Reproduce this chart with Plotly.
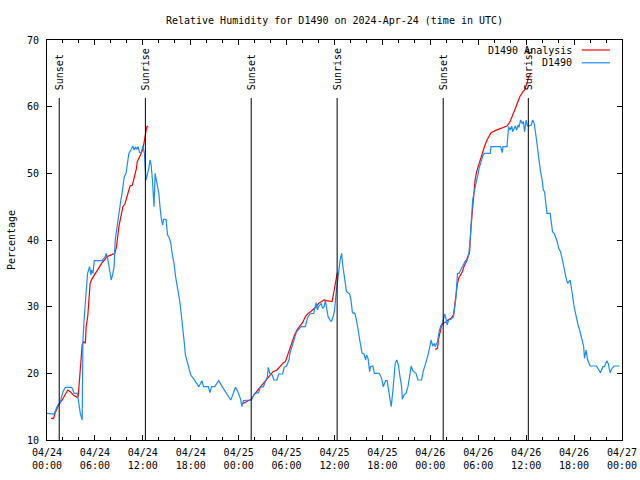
import pandas as pd
import plotly.graph_objects as go

START = pd.Timestamp("2024-04-24 00:00")

# Observed relative humidity (hours since 2024-04-24 00:00 UTC, percent)
obs_hours = [0.0, 0.9, 1.25, 1.67, 2.0, 2.3, 3.1, 3.4, 3.8, 4.0, 4.17, 4.4, 4.5, 4.67, 4.83, 4.96, 5.08, 5.33, 5.5, 5.58,
             5.75, 5.92, 6.9, 7.3, 7.4, 7.6, 7.9, 8.04, 8.25, 8.4, 8.54, 8.75, 9.0, 9.25, 9.4, 9.67, 9.9, 10.1, 10.25, 10.5,
             10.75, 10.9, 11.1, 11.25, 11.4, 11.6, 11.8, 12.0, 12.2, 12.3, 12.4, 12.6, 12.75, 12.9, 13.04, 13.2, 13.33, 13.4, 13.54, 13.67,
             13.83, 14.0, 14.17, 14.33, 14.5, 14.58, 14.9, 15.1, 15.33, 15.5, 15.67, 15.9, 16.1, 16.25, 16.4, 16.6, 16.75, 16.9, 17.1, 17.2,
             17.33, 17.5, 17.67, 17.83, 18.0, 18.33, 18.6, 18.8, 19.0, 19.2, 19.4, 19.6, 20.2, 20.4, 20.6, 21.0, 21.5, 22.0, 22.5, 23.0,
             23.25, 23.6, 23.9, 24.25, 24.4, 24.6, 25.6, 25.8, 26.0, 26.5, 26.7, 27.1, 27.35, 27.6, 27.7, 27.9, 28.2, 28.4, 28.8, 29.0,
             29.5, 29.7, 30.0, 30.3, 30.4, 30.7, 30.9, 31.2, 31.5, 31.85, 32.35, 32.6, 32.9, 33.4, 33.7, 33.85, 34.0, 34.35, 34.5, 34.7,
             34.85, 35.0, 35.2, 35.4, 35.6, 35.85, 36.0, 36.2, 36.35, 36.5, 36.7, 36.9, 37.0, 37.2, 37.35, 37.5, 37.9, 38.05, 38.25, 38.55,
             38.75, 38.95, 39.1, 39.3, 39.45, 39.7, 39.9, 40.0, 40.2, 40.4, 40.5, 40.8, 41.0, 41.6, 41.9, 42.1, 42.4, 42.6, 42.8, 43.0,
             43.1, 43.3, 43.45, 43.6, 43.8, 44.0, 44.2, 44.4, 44.5, 44.7, 44.95, 45.2, 45.4, 45.6, 45.8, 46.2, 46.45, 46.9, 47.1, 47.4,
             47.6, 47.8, 48.0, 48.1, 48.3, 48.5, 48.6, 48.9, 49.1, 49.3, 49.55, 49.8, 50.0, 50.1, 50.3, 50.6, 50.9, 51.05, 51.2, 51.4,
             51.6, 51.8, 52.0, 52.15, 52.4, 52.6, 52.8, 52.97, 53.1, 53.3, 53.5, 53.6, 53.8, 54.0, 54.1, 54.3, 54.5, 54.6, 54.8, 55.5,
             55.6, 56.8, 57.0, 57.1, 57.6, 57.8, 57.98, 58.2, 58.3, 58.5, 58.65, 58.8, 59.0, 59.1, 59.3, 59.5, 59.65, 59.8, 60.0, 60.15,
             60.3, 60.65, 60.8, 61.0, 61.15, 61.3, 61.5, 61.65, 61.8, 62.0, 62.15, 62.3, 62.5, 62.6, 63.0, 63.15, 63.3, 63.5, 63.7, 63.9,
             64.07, 64.3, 64.5, 64.65, 64.8, 65.0, 65.2, 65.5, 65.65, 65.8, 66.0, 66.2, 66.3, 66.5, 66.7, 66.8, 67.0, 67.2, 67.3, 67.5,
             67.7, 68.0, 68.8, 69.1, 69.3, 69.6, 69.8, 70.1, 70.3, 70.5, 70.75, 71.0, 71.7]
obs_values = [14.0, 13.9, 15.0, 15.75, 17.25, 17.9, 17.9, 17.0, 17.0, 15.5, 14.0, 13.0, 25.0, 28.5, 31.0, 34.0, 35.0, 36.0, 34.75, 35.5,
              35.0, 36.9, 36.9, 37.5, 38.0, 37.25, 34.75, 34.0, 35.0, 36.0, 40.0, 42.0, 44.5, 46.0, 47.0, 49.5, 50.0, 51.5, 53.0, 53.5,
              54.1, 53.5, 54.0, 53.6, 54.0, 53.1, 53.1, 54.1, 53.0, 50.75, 49.0, 50.0, 50.75, 52.0, 51.25, 49.0, 46.0, 45.0, 50.0, 49.0,
              48.0, 47.0, 44.75, 43.0, 42.25, 43.1, 43.1, 40.75, 40.25, 39.5, 38.0, 36.5, 34.5, 33.5, 32.0, 31.0, 29.5, 28.0, 26.25, 24.5,
              22.75, 22.0, 21.25, 20.5, 19.75, 19.25, 18.75, 18.25, 18.0, 18.4, 18.9, 18.0, 18.0, 17.1, 18.0, 18.0, 18.9, 17.9, 16.9, 16.0,
              16.75, 17.9, 17.25, 16.1, 15.0, 15.9, 16.0, 16.5, 17.0, 17.1, 17.9, 18.0, 18.9, 19.5, 20.9, 20.0, 19.75, 19.0, 19.0, 19.9,
              19.9, 20.9, 21.1, 22.0, 22.9, 24.1, 25.1, 26.1, 26.6, 27.0, 27.0, 28.25, 28.9, 29.0, 30.6, 29.5, 30.0, 30.5, 29.75, 30.0,
              30.9, 30.0, 28.5, 28.1, 27.75, 28.6, 29.4, 32.0, 34.0, 35.0, 37.0, 38.0, 36.5, 34.5, 33.5, 32.25, 31.9, 31.1, 29.1, 29.0,
              28.0, 26.75, 25.5, 24.0, 23.0, 22.9, 22.0, 22.75, 22.25, 20.25, 21.0, 21.1, 20.0, 20.0, 19.25, 18.0, 18.9, 18.9, 17.25, 16.0,
              15.0, 17.25, 20.0, 21.5, 22.0, 21.25, 19.5, 18.0, 16.1, 16.75, 17.0, 18.0, 19.5, 21.1, 20.4, 20.0, 19.0, 19.0, 20.25, 21.25,
              22.25, 23.25, 24.6, 25.0, 24.1, 24.5, 24.0, 24.75, 26.25, 27.1, 27.6, 28.9, 28.0, 27.25, 28.0, 28.1, 28.5, 29.75, 31.25, 35.0,
              35.0, 35.5, 36.0, 36.5, 36.9, 36.9, 37.75, 39.75, 42.75, 46.0, 47.25, 48.0, 49.0, 50.0, 50.75, 51.5, 52.25, 52.75, 53.0, 53.0,
              54.0, 54.0, 53.1, 54.0, 54.0, 57.0, 56.5, 57.1, 56.25, 56.9, 57.1, 56.5, 57.25, 56.9, 58.0, 57.5, 57.75, 56.25, 58.0, 57.1,
              57.1, 57.25, 58.0, 57.5, 56.5, 55.0, 53.0, 51.5, 50.25, 49.0, 47.5, 47.25, 45.5, 44.0, 44.0, 42.5, 41.25, 41.0, 40.5, 39.75,
              38.75, 38.25, 37.25, 36.5, 35.5, 34.25, 33.5, 34.0, 33.0, 31.75, 30.0, 28.75, 28.0, 27.25, 26.5, 26.0, 25.0, 24.0, 22.25, 23.5,
              22.0, 21.1, 21.1, 20.5, 20.1, 21.0, 21.0, 21.9, 21.4, 20.1, 20.75, 21.1, 21.1]

# Analysis series, one segment per night/morning
ana_hours_day1 = [0.5, 0.83, 1.0, 1.46, 1.9, 2.3, 2.6, 2.9, 3.3, 3.75, 3.9, 4.1, 4.25, 4.4, 4.6, 4.8, 4.9, 5.1, 5.25, 5.4,
                  5.6, 5.8, 6.1, 6.3, 6.6, 6.9, 7.2, 7.5, 7.9, 8.2, 8.5, 8.7, 8.83, 9.0, 9.25, 9.5, 9.75, 9.9, 10.1, 10.4,
                  10.7, 10.8, 11.0, 11.2, 11.3, 11.5, 11.75, 11.9, 12.1, 12.25, 12.33, 12.5, 12.67]
ana_values_day1 = [13.25, 13.25, 14.0, 15.25, 16.0, 17.0, 17.5, 17.25, 16.75, 16.4, 16.5, 19.5, 22.5, 24.25, 24.75, 24.5, 27.0, 28.5, 31.0, 33.5,
                   34.1, 34.5, 35.0, 35.6, 36.1, 36.6, 37.0, 37.5, 37.7, 37.9, 38.0, 39.0, 40.5, 42.0, 43.5, 45.0, 45.4, 46.0, 46.75, 48.1,
                   48.25, 48.75, 49.75, 50.75, 51.75, 52.25, 52.75, 53.25, 54.25, 55.5, 56.25, 57.0, 57.1]
ana_hours_day2 = [24.5, 24.75, 25.2, 25.6, 25.9, 26.25, 26.7, 27.1, 27.5, 27.9, 28.3, 28.8, 29.2, 29.6, 29.85, 30.1, 30.35, 30.7, 31.0, 31.35,
                  31.7, 32.0, 32.35, 32.7, 33.0, 33.35, 33.8, 34.0, 34.35, 34.7, 35.0, 35.4, 35.7, 35.85, 36.0, 36.2, 36.35]
ana_values_day2 = [15.5, 15.6, 15.9, 16.1, 16.75, 17.25, 18.0, 18.5, 19.0, 19.6, 20.25, 20.5, 21.1, 21.6, 21.75, 22.6, 23.75, 24.9, 25.75, 26.6,
                   27.1, 27.6, 28.5, 29.0, 29.25, 29.6, 30.1, 30.5, 30.75, 31.0, 30.9, 30.75, 30.75, 31.75, 32.75, 34.0, 35.1]
ana_hours_day3 = [48.6, 48.9, 49.0, 49.2, 49.4, 49.6, 50.0, 50.2, 50.6, 50.9, 51.05, 51.2, 51.4, 51.55, 51.7, 52.0, 52.2, 52.5, 52.7, 52.9,
                  53.1, 53.3, 53.5, 53.6, 53.8, 54.05, 54.3, 54.6, 54.8, 55.1, 55.4, 55.6, 56.1, 56.6, 57.1, 57.6, 57.98, 58.15, 58.4, 58.65,
                  58.9, 59.2, 59.6, 59.8, 60.1, 60.3, 60.6]
ana_values_day3 = [23.6, 23.75, 25.0, 26.25, 27.1, 27.5, 27.75, 28.0, 28.25, 28.75, 30.25, 31.75, 33.5, 34.25, 34.6, 35.25, 36.0, 36.75, 37.6, 38.0,
                   42.0, 45.0, 48.0, 49.0, 50.25, 51.25, 52.25, 53.5, 54.1, 55.0, 55.75, 56.1, 56.4, 56.6, 56.9, 57.1, 57.75, 58.4, 59.0, 59.75,
                   60.5, 61.5, 62.25, 62.5, 63.5, 64.5, 65.0]

# Sun events (hours since start)
sun_hours = [1.53, 12.32, 25.57, 36.33, 49.61, 60.27]
sun_labels = ["Sunset", "Sunrise", "Sunset", "Sunrise", "Sunset", "Sunrise"]
sun_line_top = 61.3
sun_label_y = 62.2

tick_hours = [0, 6, 12, 18, 24, 30, 36, 42, 48, 54, 60, 66, 72]
tick_labels = ["04/24<br>00:00", "04/24<br>06:00", "04/24<br>12:00", "04/24<br>18:00",
               "04/25<br>00:00", "04/25<br>06:00", "04/25<br>12:00", "04/25<br>18:00",
               "04/26<br>00:00", "04/26<br>06:00", "04/26<br>12:00", "04/26<br>18:00",
               "04/27<br>00:00"]

FONT = "DejaVu Sans Mono"
RED = "#ff0000"
BLUE = "#1a8cff"
FIG_W, FIG_H = 640, 480


def to_time(hours):
    return [None if h is None else START + pd.Timedelta(hours=h) for h in hours]


ana_hours = ana_hours_day1 + [None] + ana_hours_day2 + [None] + ana_hours_day3
ana_values = ana_values_day1 + [None] + ana_values_day2 + [None] + ana_values_day3

fig = go.Figure()
fig.add_trace(go.Scatter(x=to_time(ana_hours), y=ana_values, mode="lines",
                         line=dict(color=RED, width=1.2), name="D1490 Analysis",
                         connectgaps=False, showlegend=False))
fig.add_trace(go.Scatter(x=to_time(obs_hours), y=obs_values, mode="lines",
                         line=dict(color=BLUE, width=1.2), name="D1490", showlegend=False))

for h, lab in zip(sun_hours, sun_labels):
    t = START + pd.Timedelta(hours=h)
    fig.add_shape(type="line", xref="x", yref="y", x0=t, x1=t, y0=10, y1=sun_line_top,
                  line=dict(color="black", width=1))
    fig.add_annotation(x=t, y=sun_label_y, xref="x", yref="y", text=lab, textangle=-90,
                       showarrow=False, xanchor="center", yanchor="bottom",
                       font=dict(family=FONT, size=10, color="black"))

# Manual gnuplot-style key (text right, sample on the right)
legend_items = [("D1490 Analysis", RED, 0.975), ("D1490", BLUE, 0.943)]
for name, col, yp in legend_items:
    fig.add_annotation(x=0.9165, y=yp, xref="paper", yref="paper", text=name, showarrow=False,
                       xanchor="right", yanchor="middle", font=dict(family=FONT, size=10, color="black"))
    fig.add_shape(type="line", xref="paper", yref="paper", x0=0.930, x1=0.979, y0=yp, y1=yp,
                  line=dict(color=col, width=1.2))

fig.update_layout(
    width=FIG_W, height=FIG_H,
    margin=dict(l=47, r=18, t=40, b=40, autoexpand=False),
    paper_bgcolor="white", plot_bgcolor="white",
    font=dict(family=FONT, size=10, color="black"),
    title=dict(text="Relative Humidity for D1490 on 2024-Apr-24 (time in UTC)",
               x=(47 + 575 / 2) / FIG_W, xanchor="center", y=1 - 20.5 / FIG_H, yanchor="middle",
               font=dict(family=FONT, size=10, color="black")),
    showlegend=False,
)
fig.update_xaxes(
    type="date", automargin=False,
    range=[START, START + pd.Timedelta(hours=72)],
    tickmode="array", tickvals=to_time(tick_hours), ticktext=tick_labels,
    ticks="inside", ticklen=5, tickcolor="black", tickwidth=1,
    minor=dict(ticks="inside", ticklen=3, dtick=2 * 3600 * 1000, tick0=START, tickcolor="black", showgrid=False),
    showline=True, linecolor="black", linewidth=1, mirror="allticks",
    showgrid=False, zeroline=False,
    tickfont=dict(family=FONT, size=10, color="black"),
    ticklabelstandoff=3,
)
fig.update_yaxes(
    automargin=False,
    range=[10, 70], tickmode="linear", tick0=10, dtick=10,
    ticks="inside", ticklen=5, tickcolor="black", tickwidth=1,
    showline=True, linecolor="black", linewidth=1, mirror="allticks",
    showgrid=False, zeroline=False,
    tickfont=dict(family=FONT, size=10, color="black"),
    ticklabelstandoff=5,
    title=dict(text="Percentage", font=dict(family=FONT, size=10, color="black"), standoff=9),
)

# remove the browser's default 8px page margin so the 640x480 figure fills the window
fig.write_html("out.html", config={"displayModeBar": False},
               post_script="document.body.style.margin='0';document.body.style.overflow='hidden';")
